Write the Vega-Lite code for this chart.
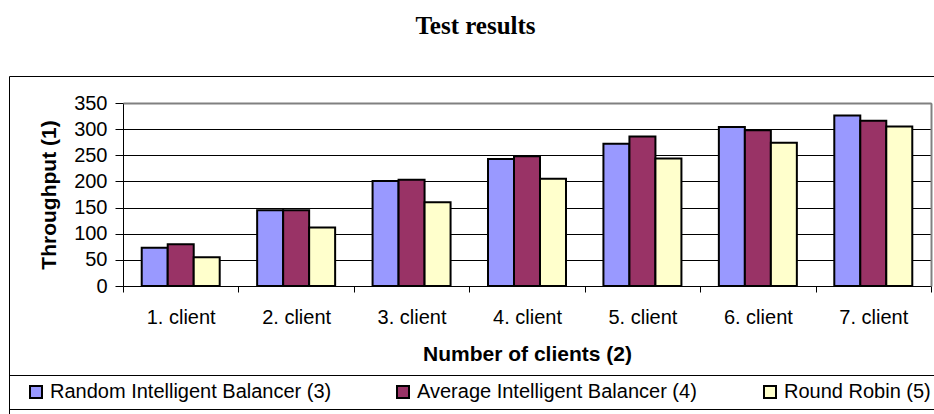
{
  "$schema": "https://vega.github.io/schema/vega-lite/v6.json",
  "width": 925,
  "height": 338,
  "autosize": {"type": "none"},
  "padding": {"left": 9, "top": 76, "right": 0, "bottom": 0},
  "background": "white",
  "title": {"text": "Test results", "font": "Liberation Serif", "fontSize": 25, "fontWeight": "bold", "color": "black", "anchor": "middle", "offset": 37, "dx": 4},
  "config": {"view": {"stroke": "black", "strokeWidth": 1}, "font": "Liberation Sans"},
  "data": {"values": [
    {"client": "1. client", "series": "Random Intelligent Balancer (3)", "value": 73},
    {"client": "1. client", "series": "Average Intelligent Balancer (4)", "value": 80},
    {"client": "1. client", "series": "Round Robin (5)", "value": 55},
    {"client": "2. client", "series": "Random Intelligent Balancer (3)", "value": 145},
    {"client": "2. client", "series": "Average Intelligent Balancer (4)", "value": 145},
    {"client": "2. client", "series": "Round Robin (5)", "value": 112},
    {"client": "3. client", "series": "Random Intelligent Balancer (3)", "value": 201},
    {"client": "3. client", "series": "Average Intelligent Balancer (4)", "value": 203},
    {"client": "3. client", "series": "Round Robin (5)", "value": 160},
    {"client": "4. client", "series": "Random Intelligent Balancer (3)", "value": 243},
    {"client": "4. client", "series": "Average Intelligent Balancer (4)", "value": 248},
    {"client": "4. client", "series": "Round Robin (5)", "value": 205},
    {"client": "5. client", "series": "Random Intelligent Balancer (3)", "value": 272},
    {"client": "5. client", "series": "Average Intelligent Balancer (4)", "value": 286},
    {"client": "5. client", "series": "Round Robin (5)", "value": 244},
    {"client": "6. client", "series": "Random Intelligent Balancer (3)", "value": 304},
    {"client": "6. client", "series": "Average Intelligent Balancer (4)", "value": 298},
    {"client": "6. client", "series": "Round Robin (5)", "value": 274},
    {"client": "7. client", "series": "Random Intelligent Balancer (3)", "value": 326},
    {"client": "7. client", "series": "Average Intelligent Balancer (4)", "value": 316},
    {"client": "7. client", "series": "Round Robin (5)", "value": 305}
  ]},
  "layer": [
    {
      "mark": {"type": "bar", "stroke": "black", "strokeWidth": 2},
      "encoding": {
        "x": {"field": "client", "type": "nominal", "sort": null,
          "scale": {"range": [114, 922], "paddingInner": 0, "paddingOuter": 0},
          "axis": {"orient": "bottom", "offset": -128, "title": "Number of clients (2)", "labelAngle": 0, "labelFontSize": 20, "labelColor": "black", "labelPadding": 15, "tickBand": "extent", "tickSize": 6, "tickColor": "black", "domainColor": "black", "titleFontSize": 21, "titleFontWeight": "bold", "titleColor": "black", "titlePadding": 16, "grid": false}},
        "xOffset": {"field": "series", "type": "nominal", "sort": ["Random Intelligent Balancer (3)", "Average Intelligent Balancer (4)", "Round Robin (5)"], "scale": {"paddingOuter": 0.72, "paddingInner": 0}},
        "y": {"field": "value", "type": "quantitative",
          "scale": {"domain": [0, 350], "nice": false, "range": [210, 27]},
          "axis": {"orient": "left", "offset": -114, "values": [0, 50, 100, 150, 200, 250, 300, 350], "title": "Throughput (1)", "labelFontSize": 20, "labelColor": "black", "labelPadding": 8, "tickSize": 8, "tickColor": "black", "domainColor": "black", "titleFontSize": 21, "titleFontWeight": "bold", "titleColor": "black", "titlePadding": 14, "grid": true, "gridColor": "black", "gridWidth": 1, "gridOpacity": 1}},
        "color": {"field": "series", "type": "nominal",
          "scale": {"domain": ["Random Intelligent Balancer (3)", "Average Intelligent Balancer (4)", "Round Robin (5)"], "range": ["#9999FF", "#993366", "#FFFFCC"]},
          "legend": {"orient": "none", "legendX": 0, "legendY": 299, "direction": "horizontal", "columns": 3, "gridAlign": "all", "columnPadding": 61, "title": "\u00a0", "titleOrient": "left", "titleFontSize": 20, "titlePadding": 10, "padding": 7, "strokeColor": "black", "labelFontSize": 20, "labelColor": "black", "labelLimit": 400, "labelOffset": 4, "symbolType": "square", "symbolSize": 144, "symbolStrokeColor": "black", "symbolStrokeWidth": 2, "symbolOpacity": 1}}
      }
    },
    {
      "mark": {"type": "bar", "opacity": 0},
      "encoding": {
        "x": {"field": "client", "type": "nominal", "sort": null,
          "axis": {"orient": "top", "offset": -27, "labels": false, "ticks": false, "title": null, "domainColor": "#808080", "domainWidth": 2, "grid": false, "zindex": 1}},
        "xOffset": {"field": "series", "type": "nominal", "sort": ["Random Intelligent Balancer (3)", "Average Intelligent Balancer (4)", "Round Robin (5)"]},
        "y": {"field": "value", "type": "quantitative",
          "axis": {"orient": "right", "offset": -3, "labels": false, "ticks": false, "title": null, "domainColor": "#808080", "domainWidth": 2, "grid": false, "zindex": 1}}
      }
    }
  ],
  "resolve": {"axis": {"x": "independent", "y": "independent"}}
}
